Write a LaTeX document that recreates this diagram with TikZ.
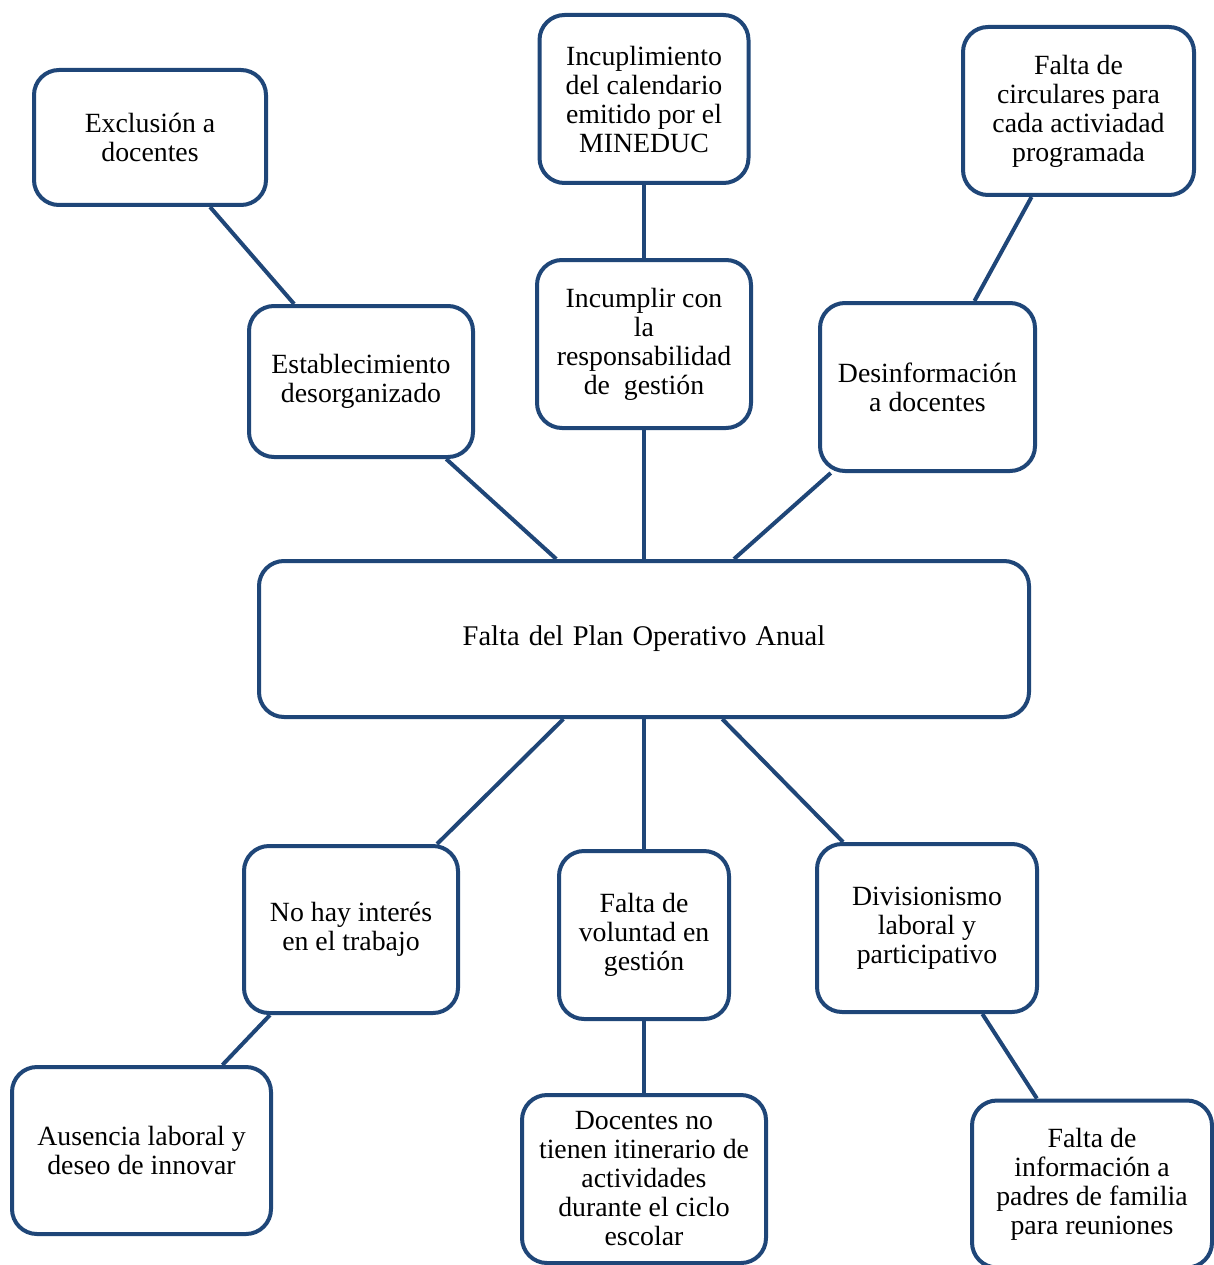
\documentclass[tikz,border=0pt]{standalone}
\usepackage{fontspec}
\setmainfont{Liberation Serif}
\definecolor{boxblue}{RGB}{31,70,120}
\begin{document}
\begin{tikzpicture}[x=1pt,y=-1pt,
  box/.style={draw=boxblue, line width=4pt, rounded corners=25pt, fill=white,
    align=center, inner sep=0pt, font=\fontsize{27.8}{29}\selectfont},
  link/.style={draw=boxblue, line width=4pt}]
\useasboundingbox (0,0) rectangle (1213,1265);
\node[box, minimum width=232pt, minimum height=135pt] (ex) at (150,137.5) {Exclusión a\\docentes};
\node[box, minimum width=209pt, minimum height=168pt] (inc) at (644,99) {Incuplimiento\\del calendario\\emitido por el\\MINEDUC};
\node[box, minimum width=231pt, minimum height=168pt] (circ) at (1078.5,111) {Falta de\\circulares para\\cada activiadad\\programada};
\node[box, minimum width=224pt, minimum height=151pt] (est) at (361,381.5) {Establecimiento\\desorganizado};
\node[box, minimum width=214pt, minimum height=168pt] (incu) at (644,344) {Incumplir con\\la\\responsabilidad\\de\ \ gestión};
\node[box, minimum width=215pt, minimum height=168pt] (desi) at (927.5,387) {Desinformación\\a docentes};
\node[box, minimum width=770pt, minimum height=156pt, font=\fontsize{28.5}{29}\selectfont] (main) at (644,639) {\raisebox{-3pt}{Falta\hspace{2pt} del\hspace{2pt} Plan\hspace{2pt} Operativo\hspace{2pt} Anual}};
\node[box, minimum width=214pt, minimum height=167pt] (nohay) at (351,929.5) {No hay interés\\en el trabajo};
\node[box, minimum width=170pt, minimum height=168pt] (volu) at (644,935) {Falta de\\voluntad en\\gestión};
\node[box, minimum width=220pt, minimum height=168pt] (divi) at (927,928) {Divisionismo\\laboral y\\participativo};
\node[box, minimum width=259pt, minimum height=167pt] (ause) at (141.5,1150.5) {Ausencia laboral y\\deseo de innovar};
\node[box, minimum width=244pt, minimum height=168pt] (doce) at (644,1179) {Docentes no\\tienen itinerario de\\actividades\\durante el ciclo\\escolar};
\node[box, minimum width=240pt, minimum height=167pt] (finf) at (1092,1184) {Falta de\\información a\\padres de familia\\para reuniones};
\draw[link] (ex) -- (est);
\draw[link] (est) -- (main);
\draw[link] (inc) -- (incu);
\draw[link] (incu) -- (main);
\draw[link] (circ) -- (desi);
\draw[link] (desi) -- (main);
\draw[link] (main) -- (nohay);
\draw[link] (main) -- (volu);
\draw[link] (main) -- (divi);
\draw[link] (nohay) -- (ause);
\draw[link] (volu) -- (doce);
\draw[link] (divi) -- (finf);
\end{tikzpicture}
\end{document}
